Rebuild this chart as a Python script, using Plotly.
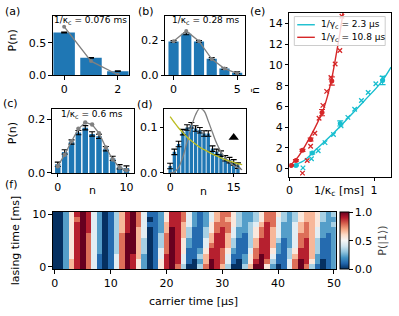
import plotly.graph_objects as go

W, H = 399, 316

# ---------------- data ----------------
a_n = [0, 1, 2]
a_p = [0.66, 0.27, 0.065]
a_err = [0.006, 0.006, 0.005]
a_theory = [0.75, 0.22, 0.01]

b_n = [0, 1, 2, 3, 4, 5]
b_p = [0.195, 0.239, 0.195, 0.096, 0.039, 0.016]
b_err = [0.005, 0.006, 0.005, 0.006, 0.005, 0.005]
b_theory = [0.196, 0.255, 0.196, 0.094, 0.039, 0.012]

c_n = [0, 1, 2, 3, 4, 5, 6, 7, 8, 9, 10]
c_p = [0.032, 0.078, 0.115, 0.150, 0.168, 0.145, 0.136, 0.090, 0.054, 0.023, 0.018]
c_err = [0.008, 0.008, 0.008, 0.008, 0.008, 0.008, 0.008, 0.008, 0.008, 0.008, 0.008]
c_theory = [0.025, 0.068, 0.118, 0.164, 0.188, 0.180, 0.148, 0.095, 0.050, 0.020, 0.010]

d_n = list(range(17))
d_p = [0.015, 0.046, 0.063, 0.089, 0.099, 0.104, 0.097, 0.093, 0.086, 0.086,
       0.053, 0.046, 0.042, 0.032, 0.028, 0.023, 0.016]
d_err = [0.006] * 17
d_poisson_n = list(range(18))
d_poisson = [0.0, 0.002, 0.012, 0.035, 0.068, 0.100, 0.127, 0.141, 0.135, 0.113,
             0.088, 0.064, 0.046, 0.033, 0.024, 0.016, 0.011, 0.007]
d_thermal_n = list(range(18))
d_thermal = [0.123, 0.110, 0.098, 0.088, 0.078, 0.070, 0.063, 0.056, 0.051, 0.046,
             0.041, 0.037, 0.033, 0.029, 0.026, 0.023, 0.020, 0.018]
d_marker = (15, 0.077)

e_cyan_line_x = [0, 0.17, 0.31, 0.50, 0.69, 0.885, 1.08, 1.2]
e_cyan_line_y = [0.2, 0.75, 1.8, 3.25, 4.85, 6.55, 8.3, 9.8]
e_red_line_x = [0, 0.1, 0.2, 0.3, 0.4, 0.45, 0.5, 0.55, 0.6, 0.65]
e_red_line_y = [0.2, 1.1, 2.4, 3.9, 5.7, 7.0, 8.7, 10.9, 13.3, 16.0]
e_cyan_x_x = [0.16, 0.26, 0.34, 0.42, 0.52, 0.61, 0.69, 0.77, 0.85, 0.93, 1.02, 1.10]
e_cyan_x_y = [0.06, 0.94, 1.72, 2.5, 3.28, 4.12, 4.94, 5.72, 6.56, 7.34, 8.18, 8.75]
e_red_x_x = [0.154, 0.21, 0.25, 0.30, 0.35, 0.395, 0.44, 0.49, 0.54, 0.595, 0.62]
e_red_x_y = [-0.45, 0.78, 2.15, 3.4, 4.85, 6.1, 7.45, 8.8, 10.1, 11.4, 14.7]
e_cyan_o_x = [0.077, 0.27, 0.60, 1.10]
e_cyan_o_y = [0.30, 1.5, 4.35, 8.5]
e_cyan_o_err = [0.05, 0.1, 0.25, 0.4]
e_red_o_x = [0.02, 0.077, 0.154, 0.25, 0.385, 0.50]
e_red_o_y = [0.30, 0.78, 1.75, 2.8, 5.4, 8.45]
e_red_o_err = [0.05, 0.08, 0.1, 0.15, 0.3, 0.4]
e_legend = ["1/γ<sub>c</sub> = 2.3 μs", "1/γ<sub>c</sub> = 10.8 μs"]

# heatmap: P(|1>) in ninths, one string per lasing time (0..10 ms), carrier time 0..50 us
heat_rows = [
    "002689741014798520158973003798630036995201479731012",
    "002689741014798520158984102698741025897311479852012",
    "002589741014798620148984113688741125798411368862112",
    "002589742013799630147985112588752114788521358863112",
    "002589742013799630137985211478863113688621247863112",
    "002589742013799630137985211468863113688631247863112",
    "002589742013799640137986311368864213578642247764212",
    "002589842013689640126986311357874223578642246764222",
    "002589842013689741126886421257775323468742246765223",
    "002579842013689740125887421246765322357743235665322",
    "002589842013689741125887421246775322357753235665323",
]
heat_x = list(range(51))
heat_y = list(range(11))

# ---------------- styling ----------------
BLUE = "#1f77b4"
GREY = "#808080"
CYAN = "#17becf"
RED = "#d62728"
OLIVE = "#bcbd22"
RDBU_R = [[0.0, "#053061"], [0.1, "#2166ac"], [0.2, "#4393c3"], [0.3, "#92c5de"],
          [0.4, "#d1e5f0"], [0.5, "#f7f7f7"], [0.6, "#fddbc7"], [0.7, "#f4a582"],
          [0.8, "#d6604d"], [0.9, "#b2182b"], [1.0, "#67001f"]]


def xd(p0, p1):
    return [p0 / W, p1 / W]


def yd(p0, p1):
    return [1 - p1 / H, 1 - p0 / H]


def axis(**kw):
    d = dict(showline=True, mirror=True, linecolor="black", linewidth=1,
             ticks="outside", ticklen=3.5, tickwidth=1, tickcolor="black",
             showgrid=False, zeroline=False,
             tickfont=dict(size=11, color="black"))
    d.update(kw)
    return d


fig = go.Figure()

err_style = dict(type="data", visible=True, color="black", thickness=1.1, width=3)


def bars(n, p, err, xa, ya):
    fig.add_trace(go.Bar(x=n, y=p, width=0.8, marker=dict(color=BLUE, line=dict(width=0)),
                         error_y=dict(array=err, **err_style),
                         xaxis=xa, yaxis=ya, showlegend=False))


# (a)
bars(a_n, a_p, a_err, "x", "y")
fig.add_trace(go.Scatter(x=a_n, y=a_theory, mode="lines+markers",
                         line=dict(color=GREY, width=1.3), marker=dict(color=GREY, size=4),
                         xaxis="x", yaxis="y", showlegend=False))
# (b)
bars(b_n, b_p, b_err, "x2", "y2")
fig.add_trace(go.Scatter(x=b_n, y=b_theory, mode="lines+markers",
                         line=dict(color=GREY, width=1.3), marker=dict(color=GREY, size=4),
                         xaxis="x2", yaxis="y2", showlegend=False))
# (c)
bars(c_n, c_p, c_err, "x3", "y3")
fig.add_trace(go.Scatter(x=c_n, y=c_theory, mode="lines+markers",
                         line=dict(color=GREY, width=1.3), marker=dict(color=GREY, size=4.5),
                         xaxis="x3", yaxis="y3", showlegend=False))
# (d)
bars(d_n, d_p, d_err, "x4", "y4")
fig.add_trace(go.Scatter(x=d_poisson_n, y=d_poisson, mode="lines", line_shape="spline",
                         line=dict(color=GREY, width=1.3),
                         xaxis="x4", yaxis="y4", showlegend=False))
fig.add_trace(go.Scatter(x=d_thermal_n, y=d_thermal, mode="lines", line_shape="spline",
                         line=dict(color=OLIVE, width=1.3),
                         xaxis="x4", yaxis="y4", showlegend=False))
fig.add_trace(go.Scatter(x=[d_marker[0]], y=[d_marker[1]], mode="markers",
                         marker=dict(symbol="triangle-up", color="black", size=9),
                         xaxis="x4", yaxis="y4", showlegend=False))

# (e)
fig.add_trace(go.Scatter(x=e_cyan_line_x, y=e_cyan_line_y, mode="lines", line_shape="spline",
                         line=dict(color=CYAN, width=1.4),
                         xaxis="x5", yaxis="y5", showlegend=False))
fig.add_trace(go.Scatter(x=e_red_line_x, y=e_red_line_y, mode="lines", line_shape="spline",
                         line=dict(color=RED, width=1.4),
                         xaxis="x5", yaxis="y5", showlegend=False))
fig.add_trace(go.Scatter(x=e_cyan_x_x, y=e_cyan_x_y, mode="markers",
                         marker=dict(symbol="x-thin", size=4.5, line=dict(width=1.3, color=CYAN), color=CYAN),
                         xaxis="x5", yaxis="y5", showlegend=False))
fig.add_trace(go.Scatter(x=e_red_x_x, y=e_red_x_y, mode="markers",
                         marker=dict(symbol="x-thin", size=4.5, line=dict(width=1.3, color=RED), color=RED),
                         xaxis="x5", yaxis="y5", showlegend=False))
fig.add_trace(go.Scatter(x=e_cyan_o_x, y=e_cyan_o_y, mode="markers",
                         marker=dict(symbol="circle", size=5, color=CYAN),
                         error_y=dict(type="data", array=e_cyan_o_err, color=CYAN, thickness=1.1, width=3),
                         xaxis="x5", yaxis="y5", showlegend=False))
fig.add_trace(go.Scatter(x=e_red_o_x, y=e_red_o_y, mode="markers",
                         marker=dict(symbol="circle", size=5, color=RED),
                         error_y=dict(type="data", array=e_red_o_err, color=RED, thickness=1.1, width=3),
                         xaxis="x5", yaxis="y5", showlegend=False))

# (f)
z = [[int(ch) / 9 for ch in row] for row in heat_rows]
fig.add_trace(go.Heatmap(x=heat_x, y=heat_y, z=z, zmin=0, zmax=1, colorscale=RDBU_R,
                         xaxis="x6", yaxis="y6", showscale=True,
                         colorbar=dict(x=343.5 / W, xanchor="left", xpad=0, ypad=0,
                                       y=1 - 245.25 / H, yanchor="middle",
                                       len=59.5 / H, lenmode="fraction",
                                       thickness=8.5, thicknessmode="pixels",
                                       outlinecolor="black", outlinewidth=1,
                                       tickvals=[0, 0.5, 1], ticktext=["0.0", "0.5", "1.0"],
                                       ticks="outside", ticklen=3.5, tickcolor="black",
                                       tickfont=dict(size=11, color="black"))))

layout = dict(
    width=W, height=H, margin=dict(l=0, r=0, t=0, b=0),
    paper_bgcolor="white", plot_bgcolor="white",
    font=dict(family="DejaVu Sans", size=11, color="black"),
    xaxis=axis(domain=xd(50, 128), range=[-0.42, 2.42], tickvals=[0, 2], anchor="y"),
    yaxis=axis(domain=yd(12, 74), range=[0, 0.92], tickvals=[0, 0.5], ticktext=["0.0", "0.5"], anchor="x"),
    xaxis2=axis(domain=xd(165, 247), range=[-0.65, 5.65], tickvals=[0, 5], anchor="y2"),
    yaxis2=axis(domain=yd(12, 74), range=[0, 0.343], tickvals=[0, 0.2], ticktext=["0.0", "0.2"], anchor="x2"),
    xaxis3=axis(domain=xd(49, 133), range=[-0.86, 11.1], tickvals=[0, 10], anchor="y3"),
    yaxis3=axis(domain=yd(109, 175), range=[0, 0.237], tickvals=[0, 0.2], ticktext=["0.0", "0.2"], anchor="x3"),
    xaxis4=axis(domain=xd(164, 248), range=[-1.38, 18.0], tickvals=[0, 15], anchor="y4"),
    yaxis4=axis(domain=yd(109, 175), range=[0, 0.139], tickvals=[0, 0.1], ticktext=["0.0", "0.1"], anchor="x4"),
    xaxis5=axis(domain=xd(292, 396), range=[0, 1.2], tickvals=[0, 1], anchor="y5"),
    yaxis5=axis(domain=yd(9, 179), range=[-0.8, 15.05], tickvals=[0, 2, 4, 6, 8, 10, 12, 14], anchor="x5"),
    xaxis6=axis(domain=xd(50, 339.5), range=[-0.35, 50.35], tickvals=[0, 10, 20, 30, 40, 50], anchor="y6"),
    yaxis6=axis(domain=yd(215.5, 275), range=[-0.5, 10.4], tickvals=[0, 10], anchor="x6"),
    showlegend=False,
)
fig.update_layout(**layout)


def txt(x, y, s, size=11, angle=0, color="black", anchor="center"):
    fig.add_annotation(x=x / W, y=1 - y / H, xref="paper", yref="paper", text=s,
                       showarrow=False, textangle=angle, xanchor=anchor, yanchor="middle",
                       font=dict(size=size, color=color))


# manual legend for (e)
fig.add_shape(type="rect", xref="paper", yref="paper", x0=297 / W, x1=390 / W,
              y0=1 - 43 / H, y1=1 - 13 / H, fillcolor="rgba(255,255,255,0.8)",
              line=dict(color="#cccccc", width=1), layer="above")
for i, (col, lab) in enumerate(zip([CYAN, RED], e_legend)):
    yy = 21.5 + 13 * i
    fig.add_shape(type="line", xref="paper", yref="paper", x0=300 / W, x1=318 / W,
                  y0=1 - yy / H, y1=1 - yy / H, line=dict(color=col, width=1.4), layer="above")
    txt(322, yy, lab, size=9, anchor="left")

txt(9, 8, "(a)")
txt(145, 8, "(b)")
txt(7, 103, "(c)")
txt(144, 104, "(d)")
txt(259, 8, "(e)")
txt(7, 187, "(f)")
txt(9, 38, "P(n)", angle=-90)
txt(9, 134, "P(n)", angle=-90)
txt(91, 193, "n")
txt(204, 194, "n")
txt(343, 194, "1/κ<sub>c</sub> [ms]")
txt(258, 90, "n̄", angle=-90)
txt(12, 245, "lasing time [ms]", angle=-90)
txt(194, 308, "carrier time [μs]")
txt(387, 245, "P(|1⟩)", angle=-90, color="#444444")
txt(89, 17.5, "1/κ<sub>c</sub> = 0.076 ms", size=9)
txt(206, 17.5, "1/κ<sub>c</sub> = 0.28 ms", size=9)
txt(90, 115, "1/κ<sub>c</sub> = 0.6 ms", size=9)

fig.write_html("out.html", config={"displayModeBar": False},
               post_script="document.body.style.margin='0px';document.body.style.overflow='hidden';")
